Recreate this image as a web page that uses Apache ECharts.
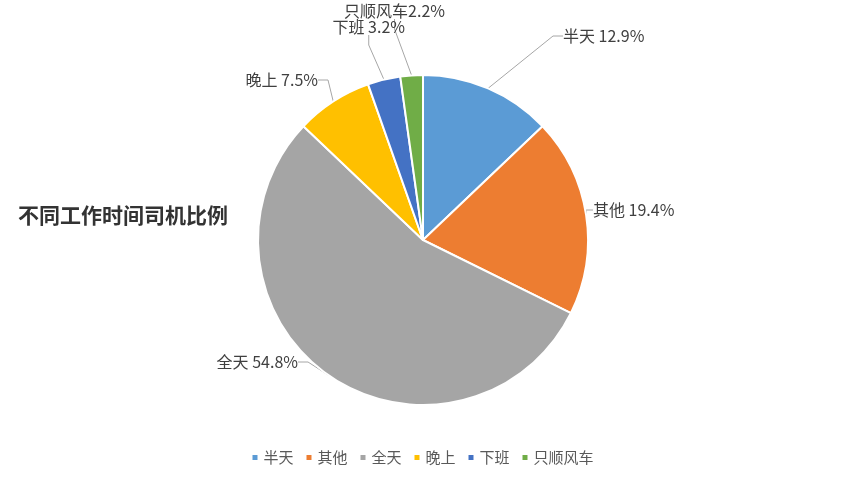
<!DOCTYPE html>
<html>
<head>
<meta charset="utf-8">
<script src="https://cdn.jsdelivr.net/npm/echarts@6/dist/echarts.min.js"></script>
<style>html,body{margin:0;padding:0;background:#fff;}#c{width:844px;height:477px;}</style>
</head>
<body>
<div id="c"></div>
<script>
const categories = ['半天', '其他', '全天', '晚上', '下班', '只顺风车'];
const values = [12.9, 19.4, 54.8, 7.5, 3.2, 2.2];
const colors = ['#5B9BD5', '#ED7D31', '#A5A5A5', '#FFC000', '#4472C4', '#70AD47'];
const titleText = '不同工作时间司机比例';

// label placement (text anchor positions, px) — layout only
const labelX = [563, 593, 298, 318, 405, 445];
const labelY = [36, 210, 362, 80, 27, 11];
const labelAlign = ['left', 'left', 'right', 'right', 'right', 'right'];

const chart = echarts.init(document.getElementById('c'));
const font = '"Noto Sans CJK SC", "Microsoft YaHei", sans-serif';
chart.setOption({
  animation: false,
  color: colors,
  title: {
    text: titleText,
    left: 13, top: 200,
    textStyle: { fontFamily: font, fontSize: 21, fontWeight: 'bold', color: '#333' }
  },
  legend: {
    bottom: 7, left: 'center',
    itemWidth: 7, itemHeight: 7, itemGap: 11,
    icon: 'rect',
    textStyle: { fontFamily: font, fontSize: 15, color: '#595959', padding: [0, 0, 0, 0] },
    data: categories
  },
  series: [{
    type: 'pie',
    center: [423, 240],
    radius: 165,
    startAngle: 90,
    clockwise: true,
    itemStyle: { borderColor: '#fff', borderWidth: 2 },
    label: {
      show: true,
      fontFamily: font, fontSize: 16, color: '#404040',
      formatter: p => p.name + (p.name.length > 2 ? '' : ' ') + p.value.toFixed(1) + '%'
    },
    labelLine: { show: true, length: 14, length2: 10, lineStyle: { color: '#A6A6A6', width: 1 } },
    labelLayout: p => ({
      x: labelX[p.dataIndex],
      y: labelY[p.dataIndex],
      align: labelAlign[p.dataIndex],
      verticalAlign: 'middle'
    }),
    data: categories.map((n, i) => ({ name: n, value: values[i] }))
  }]
});
</script>
</body>
</html>
